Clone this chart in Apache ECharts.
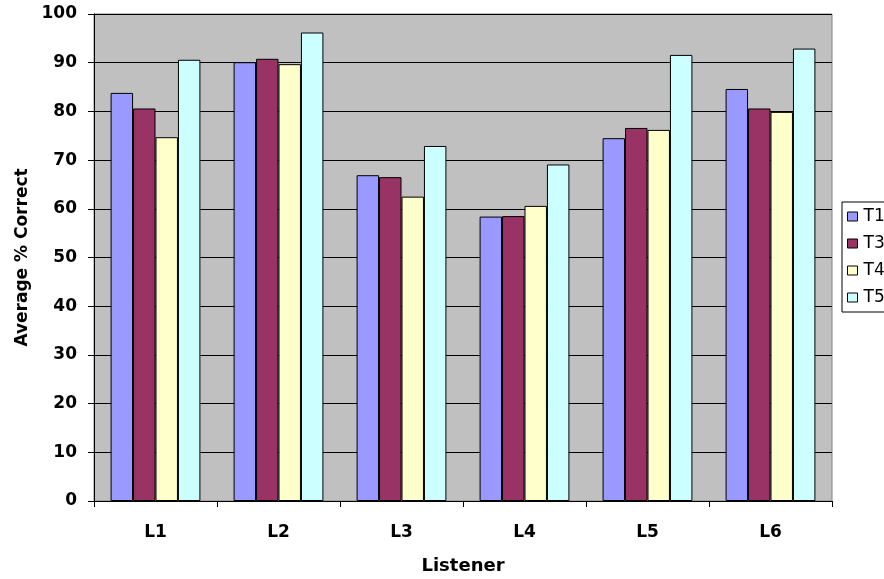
<!DOCTYPE html>
<html>
<head>
<meta charset="utf-8">
<script src="https://cdn.jsdelivr.net/npm/echarts@6/dist/echarts.min.js"></script>
<style>
  html, body { margin: 0; padding: 0; background: #ffffff; }
  #chart { width: 884px; height: 579px; }
</style>
</head>
<body>
<div id="chart"></div>
<script>
// Listener categories and per-condition average scores
var listeners = ['L1', 'L2', 'L3', 'L4', 'L5', 'L6'];
var seriesNames = ['T1', 'T3', 'T4', 'T5'];
var t1 = [83.8, 90.1, 66.9, 58.4, 74.5, 84.6];
var t3 = [80.6, 90.8, 66.5, 58.5, 76.6, 80.6];
var t4 = [74.7, 89.7, 62.5, 60.6, 76.2, 79.9];
var t5 = [90.6, 96.2, 72.9, 69.1, 91.6, 92.9];
var seriesValues = [t1, t3, t4, t5];
var seriesColors = ['#9999FF', '#993366', '#FFFFCC', '#CCFFFF'];

var font = '"DejaVu Sans", Arial, sans-serif';

var chart = echarts.init(document.getElementById('chart'), null, { renderer: 'canvas' });

var series = seriesNames.map(function (name, i) {
  return {
    name: name,
    type: 'bar',
    data: seriesValues[i],
    barGap: '0%',
    barCategoryGap: '27%',
    itemStyle: { color: seriesColors[i], borderColor: '#000000', borderWidth: 1 },
    emphasis: { disabled: true }
  };
});

chart.setOption({
  animation: false,
  backgroundColor: '#ffffff',
  grid: {
    left: 94, right: 52, top: 14, bottom: 78,
    outerBoundsMode: 'none',
    containLabel: false,
    show: true, backgroundColor: '#C0C0C0', borderColor: '#808080', borderWidth: 1
  },
  legend: {
    orient: 'vertical',
    left: 842, top: 202,
    data: seriesNames,
    icon: 'rect',
    itemWidth: 10, itemHeight: 9, itemGap: 10,
    padding: [6, 60, 6, 5],
    backgroundColor: '#ffffff',
    borderColor: '#000000', borderWidth: 1,
    itemStyle: { borderColor: '#000000', borderWidth: 1 },
    textStyle: { fontFamily: font, fontSize: 17, lineHeight: 16, color: '#000000', padding: [0, 0, 0, 1] }
  },
  xAxis: {
    type: 'category',
    data: listeners,
    name: 'Listener',
    nameLocation: 'middle',
    nameGap: 56,
    nameTextStyle: { fontFamily: font, fontSize: 18, fontWeight: 'bold', color: '#000000' },
    axisLine: { lineStyle: { color: '#000000', width: 1 } },
    axisTick: { show: true, length: 6, lineStyle: { color: '#000000' } },
    axisLabel: { fontFamily: font, fontSize: 17, fontWeight: 'bold', color: '#000000', margin: 23 }
  },
  yAxis: {
    type: 'value',
    min: 0, max: 100, interval: 10,
    name: 'Average % Correct',
    nameLocation: 'middle',
    nameRotate: 90,
    nameGap: 62,
    nameTextStyle: { fontFamily: font, fontSize: 17, fontWeight: 'bold', color: '#000000' },
    axisLine: { show: true, lineStyle: { color: '#000000', width: 1 } },
    axisTick: { show: true, length: 6, lineStyle: { color: '#000000' } },
    axisLabel: { fontFamily: font, fontSize: 17, fontWeight: 'bold', color: '#000000', margin: 17 },
    splitLine: { show: true, lineStyle: { color: '#000000', width: 1 } }
  },
  series: series
});
</script>
</body>
</html>
